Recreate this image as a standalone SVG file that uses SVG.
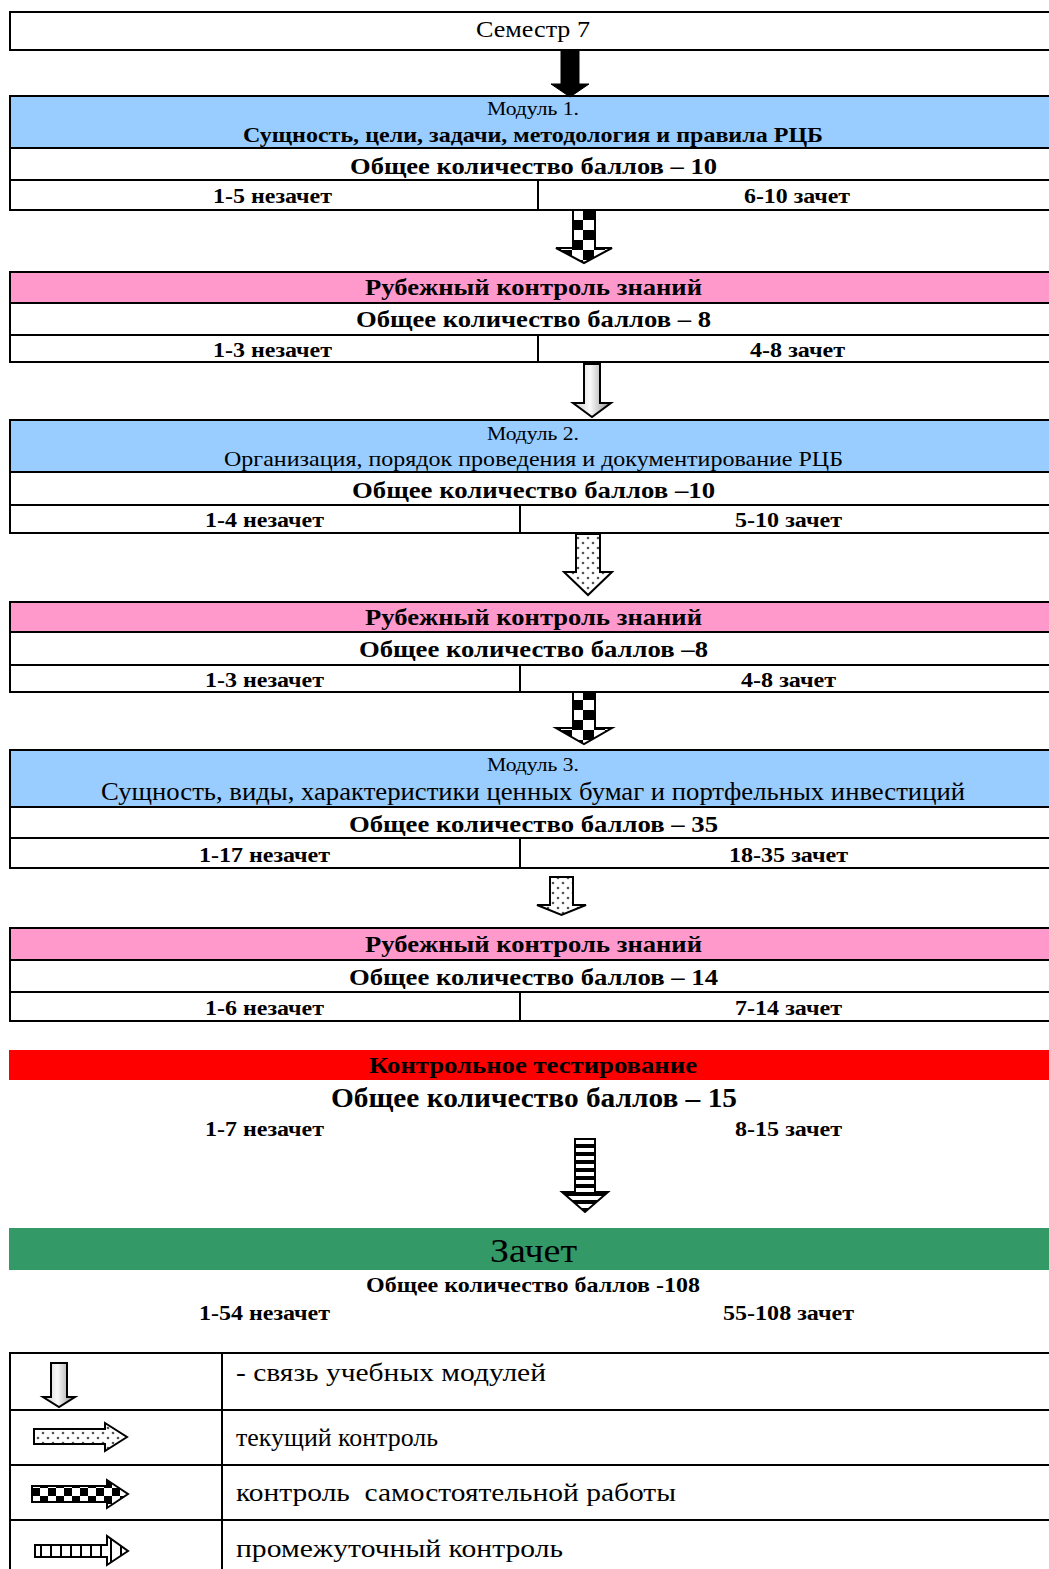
<svg xmlns="http://www.w3.org/2000/svg" width="1049" height="1569" viewBox="0 0 1049 1569">
<style>
text{font-family:"Liberation Serif","Times New Roman",serif;fill:#000}
.b{font-weight:bold}
.c{text-anchor:middle}
.box{fill:#fff;stroke:#000;stroke-width:2}
.ln{stroke:#000;stroke-width:2;fill:none}
.blue{fill:#99ccff}
.pink{fill:#ff99cc}
.arr{stroke:#000;stroke-width:2;stroke-linejoin:miter}
</style>
<defs>
<pattern id="chk" width="22" height="20" patternUnits="userSpaceOnUse"><rect width="22" height="20" fill="#fff"/><rect width="11" height="10" fill="#000"/><rect x="11" y="10" width="11" height="10" fill="#000"/></pattern>
<pattern id="chkH" width="16" height="16" patternUnits="userSpaceOnUse"><rect width="16" height="16" fill="#fff"/><rect width="8" height="8" fill="#000"/><rect x="8" y="8" width="8" height="8" fill="#000"/></pattern>
<pattern id="dots" width="10" height="10" patternUnits="userSpaceOnUse"><rect width="10" height="10" fill="#fff"/><circle cx="3" cy="3" r="1.3" fill="#555"/><circle cx="8" cy="8" r="1.3" fill="#555"/></pattern>
<pattern id="hstr" width="8" height="8" patternUnits="userSpaceOnUse"><rect width="8" height="8" fill="#fff"/><rect width="8" height="4" fill="#000"/></pattern>
<pattern id="vstr" width="10" height="10" patternUnits="userSpaceOnUse"><rect width="10" height="10" fill="#fff"/><rect width="2" height="10" fill="#000"/></pattern>
<linearGradient id="gr" x1="0" y1="0" x2="1" y2="0"><stop offset="0" stop-color="#c8c8c8"/><stop offset="0.45" stop-color="#fafafa"/><stop offset="1" stop-color="#8c8c8c"/></linearGradient>
</defs>

<g id="semestr">
<rect class="box" x="10" y="12" width="1045" height="38"/>
<text class="c" x="533" y="37" font-size="23" textLength="114" lengthAdjust="spacingAndGlyphs">Семестр 7</text>
</g>

<g id="module1">
<rect class="box" x="10" y="96" width="1045" height="114"/>
<rect class="blue" x="11" y="97" width="1040" height="51"/>
<line class="ln" x1="10" y1="148" x2="1049" y2="148"/>
<line class="ln" x1="10" y1="180" x2="1049" y2="180"/>
<line class="ln" x1="538" y1="180" x2="538" y2="210"/>
<text class="c" x="533" y="115" font-size="18" textLength="92" lengthAdjust="spacingAndGlyphs">Модуль 1.</text>
<text class="c b" x="533" y="142" font-size="22" textLength="580" lengthAdjust="spacingAndGlyphs">Сущность, цели, задачи, методология и правила РЦБ</text>
<text class="c b" x="533.5" y="174" font-size="24" textLength="367" lengthAdjust="spacingAndGlyphs">Общее количество баллов – 10</text>
<text class="c b" x="272.5" y="203" font-size="20" textLength="119" lengthAdjust="spacingAndGlyphs">1-5 незачет</text>
<text class="c b" x="797" y="203" font-size="20" textLength="106" lengthAdjust="spacingAndGlyphs">6-10 зачет</text>
</g>

<g id="rk1">
<rect class="box" x="10" y="272" width="1045" height="90"/>
<rect class="pink" x="11" y="273" width="1040" height="30"/>
<line class="ln" x1="10" y1="303" x2="1049" y2="303"/>
<line class="ln" x1="10" y1="335" x2="1049" y2="335"/>
<line class="ln" x1="538" y1="335" x2="538" y2="362"/>
<text class="c b" x="533.5" y="295" font-size="23" textLength="337" lengthAdjust="spacingAndGlyphs">Рубежный контроль знаний</text>
<text class="c b" x="533.5" y="327" font-size="24" textLength="355" lengthAdjust="spacingAndGlyphs">Общее количество баллов – 8</text>
<text class="c b" x="272.5" y="357" font-size="20" textLength="119" lengthAdjust="spacingAndGlyphs">1-3 незачет</text>
<text class="c b" x="797.5" y="357" font-size="20" textLength="95" lengthAdjust="spacingAndGlyphs">4-8 зачет</text>
</g>

<g id="module2">
<rect class="box" x="10" y="420" width="1045" height="113"/>
<rect class="blue" x="11" y="421" width="1040" height="51"/>
<line class="ln" x1="10" y1="472" x2="1049" y2="472"/>
<line class="ln" x1="10" y1="505" x2="1049" y2="505"/>
<line class="ln" x1="520" y1="505" x2="520" y2="533"/>
<text class="c" x="533" y="440" font-size="18" textLength="92" lengthAdjust="spacingAndGlyphs">Модуль 2.</text>
<text class="c" x="533.5" y="466" font-size="22" textLength="619" lengthAdjust="spacingAndGlyphs">Организация, порядок проведения и документирование РЦБ</text>
<text class="c b" x="533.5" y="498" font-size="24" textLength="363" lengthAdjust="spacingAndGlyphs">Общее количество баллов –10</text>
<text class="c b" x="264.5" y="527" font-size="20" textLength="119" lengthAdjust="spacingAndGlyphs">1-4 незачет</text>
<text class="c b" x="788.5" y="527" font-size="20" textLength="107" lengthAdjust="spacingAndGlyphs">5-10 зачет</text>
</g>

<g id="rk2">
<rect class="box" x="10" y="602" width="1045" height="90"/>
<rect class="pink" x="11" y="603" width="1040" height="29"/>
<line class="ln" x1="10" y1="632" x2="1049" y2="632"/>
<line class="ln" x1="10" y1="665" x2="1049" y2="665"/>
<line class="ln" x1="520" y1="665" x2="520" y2="692"/>
<text class="c b" x="533.5" y="625" font-size="23" textLength="337" lengthAdjust="spacingAndGlyphs">Рубежный контроль знаний</text>
<text class="c b" x="533.5" y="657" font-size="24" textLength="349" lengthAdjust="spacingAndGlyphs">Общее количество баллов –8</text>
<text class="c b" x="264.5" y="687" font-size="20" textLength="119" lengthAdjust="spacingAndGlyphs">1-3 незачет</text>
<text class="c b" x="788.5" y="687" font-size="20" textLength="95" lengthAdjust="spacingAndGlyphs">4-8 зачет</text>
</g>

<g id="module3">
<rect class="box" x="10" y="750" width="1045" height="118"/>
<rect class="blue" x="11" y="751" width="1040" height="56"/>
<line class="ln" x1="10" y1="807" x2="1049" y2="807"/>
<line class="ln" x1="10" y1="838" x2="1049" y2="838"/>
<line class="ln" x1="520" y1="838" x2="520" y2="868"/>
<text class="c" x="533" y="771" font-size="18" textLength="92" lengthAdjust="spacingAndGlyphs">Модуль 3.</text>
<text class="c" x="533" y="800" font-size="25" textLength="864" lengthAdjust="spacingAndGlyphs">Сущность, виды, характеристики ценных бумаг и портфельных инвестиций</text>
<text class="c b" x="533.5" y="832" font-size="24" textLength="369" lengthAdjust="spacingAndGlyphs">Общее количество баллов – 35</text>
<text class="c b" x="264.5" y="862" font-size="20" textLength="131" lengthAdjust="spacingAndGlyphs">1-17 незачет</text>
<text class="c b" x="788.5" y="862" font-size="20" textLength="119" lengthAdjust="spacingAndGlyphs">18-35 зачет</text>
</g>

<g id="rk3">
<rect class="box" x="10" y="928" width="1045" height="93"/>
<rect class="pink" x="11" y="929" width="1040" height="31"/>
<line class="ln" x1="10" y1="960" x2="1049" y2="960"/>
<line class="ln" x1="10" y1="992" x2="1049" y2="992"/>
<line class="ln" x1="520" y1="992" x2="520" y2="1021"/>
<text class="c b" x="533.5" y="952" font-size="23" textLength="337" lengthAdjust="spacingAndGlyphs">Рубежный контроль знаний</text>
<text class="c b" x="533.5" y="985" font-size="24" textLength="369" lengthAdjust="spacingAndGlyphs">Общее количество баллов – 14</text>
<text class="c b" x="264.5" y="1015" font-size="20" textLength="119" lengthAdjust="spacingAndGlyphs">1-6 незачет</text>
<text class="c b" x="788.5" y="1015" font-size="20" textLength="107" lengthAdjust="spacingAndGlyphs">7-14 зачет</text>
</g>

<g id="test">
<rect x="9" y="1050" width="1040" height="30" fill="#ff0000"/>
<text class="c b" x="533" y="1073" font-size="23" textLength="328" lengthAdjust="spacingAndGlyphs">Контрольное тестирование</text>
<text class="c b" x="534" y="1107" font-size="27" textLength="406" lengthAdjust="spacingAndGlyphs">Общее количество баллов – 15</text>
<text class="c b" x="264.5" y="1136" font-size="20" textLength="119" lengthAdjust="spacingAndGlyphs">1-7 незачет</text>
<text class="c b" x="788.5" y="1136" font-size="20" textLength="107" lengthAdjust="spacingAndGlyphs">8-15 зачет</text>
</g>

<g id="zachet">
<rect x="9" y="1228" width="1040" height="42" fill="#339966"/>
<text class="c" x="533.5" y="1262" font-size="34" textLength="87" lengthAdjust="spacingAndGlyphs">Зачет</text>
<text class="c b" x="533" y="1292" font-size="22" textLength="334" lengthAdjust="spacingAndGlyphs">Общее количество баллов -108</text>
<text class="c b" x="264.5" y="1320" font-size="20" textLength="131" lengthAdjust="spacingAndGlyphs">1-54 незачет</text>
<text class="c b" x="788.5" y="1320" font-size="20" textLength="131" lengthAdjust="spacingAndGlyphs">55-108 зачет</text>
</g>

<g id="connectors">
<path d="M561,51 H579 V84 H589 L570,97 L551,84 H561 Z" fill="#000" stroke="#000" stroke-width="1"/>
<path class="arr" fill="url(#chk)" d="M573,210 H595 V248 H612 L584,263 L556,248 H573 Z"/>
<path class="arr" fill="url(#gr)" d="M584,364 H600 V403 H611 L592,417 L573,403 H584 Z"/>
<path class="arr" fill="url(#dots)" d="M576,534 H600 V572 H612 L588,595 L564,572 H576 Z"/>
<path class="arr" fill="url(#chk)" d="M573,692 H595 V728 H612 L584,744 L556,728 H573 Z"/>
<path class="arr" fill="url(#dots)" d="M550,877 H573 V905 H586 L561.5,915 L537,905 H550 Z"/>
<path class="arr" fill="url(#hstr)" d="M575,1139 H595 V1192 H608 L585,1212 L562,1192 H575 Z"/>
</g>

<g id="legend">
<rect class="box" x="10" y="1353" width="1045" height="220"/>
<line class="ln" x1="10" y1="1410" x2="1049" y2="1410"/>
<line class="ln" x1="10" y1="1465" x2="1049" y2="1465"/>
<line class="ln" x1="10" y1="1520" x2="1049" y2="1520"/>
<line class="ln" x1="222" y1="1353" x2="222" y2="1569"/>
<path class="arr" fill="url(#gr)" d="M51,1363 H67 V1397 H75 L59,1407 L43,1397 H51 Z"/>
<path class="arr" fill="url(#dots)" d="M34,1429 H105 V1423 L127,1437 L105,1451 V1444 H34 Z"/>
<path class="arr" fill="url(#chkH)" d="M32,1486 H107 V1480 L128,1494 L107,1508 V1502 H32 Z"/>
<path class="arr" fill="url(#vstr)" d="M35,1545 H107 V1536 L128,1551 L107,1565 V1557 H35 Z"/>
<text x="236" y="1381" font-size="25" textLength="310" lengthAdjust="spacingAndGlyphs">- связь учебных модулей</text>
<text x="236" y="1446" font-size="25" textLength="202" lengthAdjust="spacingAndGlyphs">текущий контроль</text>
<text x="236" y="1501" font-size="25" textLength="440" lengthAdjust="spacingAndGlyphs" xml:space="preserve">контроль  самостоятельной работы</text>
<text x="236" y="1557" font-size="25" textLength="327" lengthAdjust="spacingAndGlyphs">промежуточный контроль</text>
</g>
</svg>
